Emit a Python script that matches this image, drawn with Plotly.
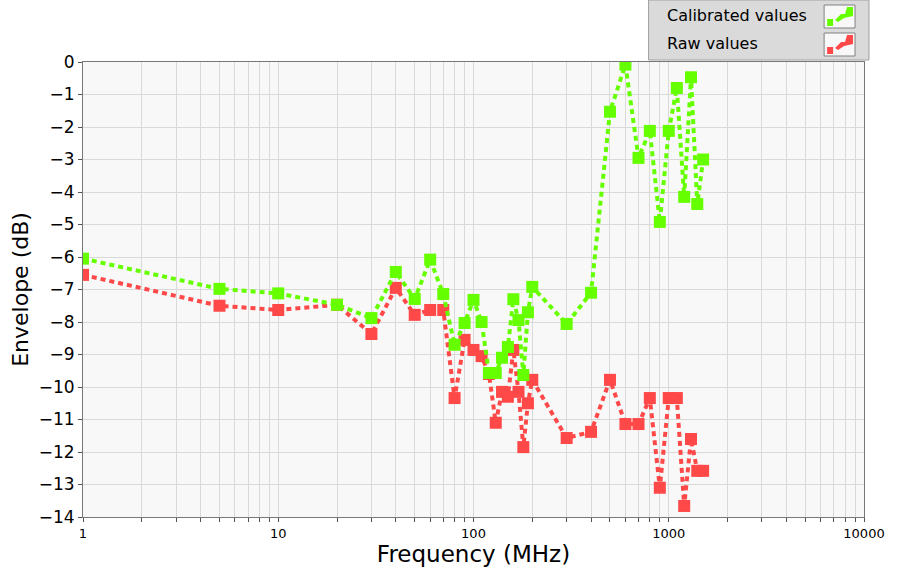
import plotly.graph_objects as go

freq = [1, 5, 10, 20, 30, 40, 50, 60, 70, 80, 90, 100, 110, 120, 130, 140, 150,
        160, 170, 180, 190, 200, 300, 400, 500, 600, 700, 800, 900, 1000, 1100,
        1200, 1300, 1400, 1500]
calibrated = [-6.05, -6.98, -7.12, -7.47, -7.88, -6.46, -7.29, -6.08, -7.14, -8.7,
              -8.03, -7.32, -8.0, -9.57, -9.57, -9.1, -8.77, -7.3, -7.94, -9.63,
              -7.7, -6.92, -8.06, -7.1, -1.53, -0.08, -2.95, -2.12, -4.92, -2.12,
              -0.8, -4.15, -0.47, -4.37, -3.0]
raw = [-6.55, -7.5, -7.63, -7.47, -8.37, -6.95, -7.78, -7.63, -7.63, -10.34,
       -8.55, -8.86, -9.05, -9.6, -11.1, -10.15, -10.3, -8.86, -10.15, -11.85,
       -10.5, -9.78, -11.57, -11.38, -9.78, -11.14, -11.14, -10.34, -13.1, -10.34,
       -10.34, -13.66, -11.6, -12.58, -12.58]
y_ticks = list(range(0, -15, -1))
x_major = [1, 10, 100, 1000, 10000]

GREEN = "#66ff00"
RED = "#ff4848"
FONT = "DejaVu Sans"

fig = go.Figure()
fig.add_trace(go.Scatter(x=freq, y=raw, mode="lines+markers", name="Raw values",
                         line=dict(color=RED, width=4, dash="5px,4px"),
                         marker=dict(symbol="square", size=12, color=RED)))
fig.add_trace(go.Scatter(x=freq, y=calibrated, mode="lines+markers", name="Calibrated values",
                         line=dict(color=GREEN, width=4, dash="5px,4px"),
                         marker=dict(symbol="square", size=12, color=GREEN)))

xt_vals, xt_text = [], []
for d in x_major[:-1]:
    for m in range(1, 10):
        xt_vals.append(d * m)
        xt_text.append(str(d) if m == 1 else "")
xt_vals.append(x_major[-1])
xt_text.append(str(x_major[-1]))

fig.update_layout(
    width=897, height=578,
    margin=dict(l=83, r=31, t=62, b=61),
    paper_bgcolor="white", plot_bgcolor="#f8f8f8",
    showlegend=False,
    font=dict(family=FONT, color="black"),
    xaxis=dict(type="log", range=[0, 4], tickvals=xt_vals, ticktext=xt_text,
               showgrid=True, gridcolor="#d9d9d9", gridwidth=1,
               ticks="outside", ticklen=4, tickcolor="#555", tickwidth=1,
               showline=True, linecolor="#777", linewidth=1, mirror=True,
               tickfont=dict(size=13, family="Liberation Sans Narrow, " + FONT),
               title=dict(text="Frequency (MHz)", font=dict(size=23), standoff=6),
               zeroline=False),
    yaxis=dict(range=[-14, 0], tickvals=y_ticks,
               ticktext=[("\u2212" + str(abs(v))) if v < 0 else "0" for v in y_ticks],
               showgrid=True, gridcolor="#d9d9d9", gridwidth=1,
               ticks="outside", ticklen=4, tickcolor="#555", tickwidth=1,
               showline=True, linecolor="#777", linewidth=1, mirror=True,
               tickfont=dict(size=17),
               title=dict(text="Envelope (dB)", font=dict(size=22), standoff=4),
               zeroline=False),
)


def px_x(p):
    return (p - 83) / 783


def px_y(p):
    return (517 - p) / 455


# custom legend box (text left, icon right)
fig.add_shape(type="rect", xref="paper", yref="paper", layer="above",
              x0=px_x(650), x1=px_x(871), y0=px_y(60), y1=px_y(0),
              line=dict(color="#a0a0a0", width=1), fillcolor="#dadada")
for i, (label, col) in enumerate([("Calibrated values", GREEN), ("Raw values", RED)]):
    yc = 16 + 28 * i
    fig.add_annotation(xref="paper", yref="paper", x=px_x(666), y=px_y(yc),
                       text=label, showarrow=False, xanchor="left", yanchor="middle",
                       font=dict(size=16, family=FONT, color="black"))
    fig.add_shape(type="rect", xref="paper", yref="paper", layer="above",
                  x0=px_x(826), x1=px_x(857), y0=px_y(yc + 12), y1=px_y(yc - 11),
                  line=dict(color="#808080", width=1), fillcolor="#f8f8f8")
    fig.add_shape(type="rect", xref="paper", yref="paper", layer="above",
                  x0=px_x(829), x1=px_x(835), y0=px_y(yc + 10), y1=px_y(yc + 3),
                  line=dict(width=0), fillcolor=col)
    fig.add_shape(type="path", xref="paper", yref="paper", layer="above",
                  path=f"M {px_x(837)} {px_y(yc + 4)} L {px_x(843)} {px_y(yc - 2)} L {px_x(847)} {px_y(yc - 2)} L {px_x(849)} {px_y(yc - 9)} L {px_x(855)} {px_y(yc - 9)} L {px_x(855)} {px_y(yc)} L {px_x(846)} {px_y(yc + 2)} L {px_x(840)} {px_y(yc + 6)} Z",
                  line=dict(width=0), fillcolor=col)

fig.write_html("out.html")
